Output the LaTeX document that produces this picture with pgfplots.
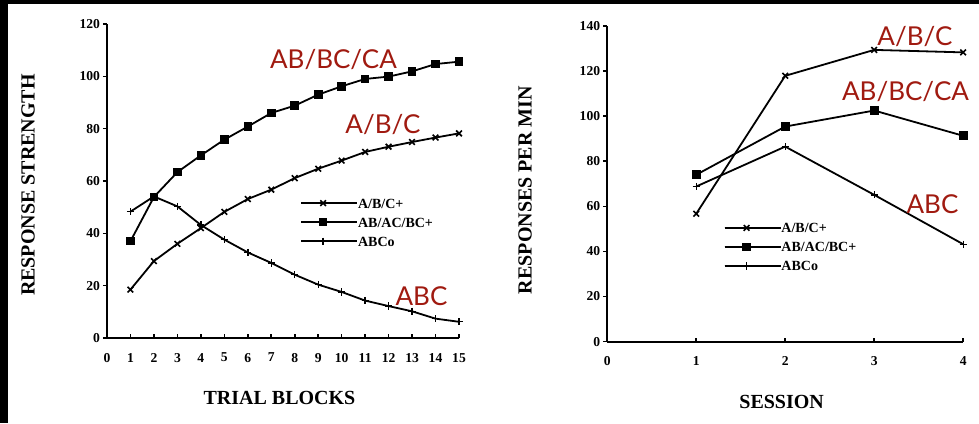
\documentclass[border=0pt]{standalone}
\usepackage{fontspec}
\setmainfont{Liberation Serif}
\newfontfamily\annotfont{Lato}
\usepackage{pgfplots}
\pgfplotsset{compat=1.18}
\definecolor{annotred}{RGB}{160,26,16}

% Response strength over trial blocks
\pgfplotstableread{
x  abc  abbcca  abco
1  18.5 37.0  48.3
2  29.4 53.9  54.1
3  36.0 63.4  50.3
4  42.0 69.8  43.2
5  48.2 75.8  37.6
6  53.1 80.8  32.7
7  56.7 86.0  28.7
8  61.1 88.8  24.2
9  64.7 93.0  20.4
10 67.8 96.2  17.6
11 71.1 99.0  14.3
12 73.1 99.9  12.2
13 74.9 101.9 10.2
14 76.6 104.7 7.4
15 78.2 105.6 6.2
}\trialtable

% Response rate over sessions
\pgfplotstableread{
x abc   abbcca abco
1 56.7  74.0   68.8
2 117.9 95.4   86.5
3 129.4 102.5  65.1
4 128.3 91.3   43.2
}\sessiontable

\pgfplotsset{
  panel/.style={
    scale only axis,
    axis x line*=bottom,
    axis y line*=left,
    axis line style={line width=0.9pt},
    tick align=inside,
    major tick length=2pt,
    tick style={line width=0.8pt, black},
    ytick style={xshift=-2pt},
    clip=false,
    ymin=0,
    /pgf/number format/assume math mode=true,
    ticklabel style={font=\fontsize{6.8}{6.8}\selectfont\bfseries},
    xticklabel style={yshift=-4pt},
    label style={font=\fontsize{10}{10}\selectfont\bfseries},
    every axis plot/.append style={line width=0.9pt, black},
    legend cell align=left,
    legend image code/.code={
      \draw[mark repeat=2, mark phase=2, #1]
        plot coordinates {(0pt,0pt) (11pt,0pt) (22pt,0pt)};
      \path (0pt,0pt) -- (28pt,0pt);
    },
    legend style={draw=none, fill=none, inner sep=0pt, row sep=4.5pt,
      font=\fontsize{7}{7}\selectfont\bfseries,
      nodes={inner sep=0pt, text height=5pt, text depth=0pt}},
  },
  markx/.style={mark=x, mark size=2pt, mark options={line width=0.8pt}},
  marksq/.style={mark=square*, mark size=1.7pt},
  markplus/.style={mark=+, mark size=1.8pt, mark options={line width=0.7pt}},
}

\begin{document}
\begin{tikzpicture}
  % page background with the dark strips along the top and left edges
  \fill[white] (0pt,0pt) rectangle (489.5pt,-211.5pt);
  \fill[black] (0pt,0pt) rectangle (489.5pt,-2pt);
  \fill[black] (0pt,0pt) rectangle (4pt,-211.5pt);

  \begin{axis}[panel,
    at={(53.5pt,-169pt)}, anchor=south west,
    width=176pt, height=157pt,
    xmin=0, xmax=15, ymax=120,
    xtick={0,1,...,15}, ytick={0,20,...,120},
    xlabel={TRIAL BLOCKS},
    ylabel={RESPONSE STRENGTH},
    xlabel style={at={([yshift=-30pt]axis description cs:0.49,0)}, anchor=center},
    ylabel style={at={([xshift=-39.5pt]axis description cs:0,0.487)}, anchor=center},
    legend style={at={(axis description cs:0.548,0.369)}, anchor=west},
  ]
    \addplot[markx] table[x=x, y=abc] {\trialtable};
    \addlegendentry{A/B/C+}
    \addplot[marksq] table[x=x, y=abbcca] {\trialtable};
    \addlegendentry{AB/AC/BC+}
    \addplot[markplus] table[x=x, y=abco] {\trialtable};
    \addlegendentry{ABCo}
  \end{axis}

  \begin{axis}[panel,
    at={(303.6pt,-170.8pt)}, anchor=south west,
    width=178pt, height=157.8pt,
    xmin=0, xmax=4, ymax=140,
    xtick={0,1,...,4}, ytick={0,20,...,140},
    xlabel={SESSION},
    ylabel={RESPONSES PER MIN},
    xlabel style={at={([yshift=-30pt]axis description cs:0.49,0)}, anchor=center},
    ylabel style={at={([xshift=-41pt]axis description cs:0,0.48)}, anchor=center},
    legend style={at={(axis description cs:0.326,0.30)}, anchor=west},
  ]
    \addplot[markx] table[x=x, y=abc] {\sessiontable};
    \addlegendentry{A/B/C+}
    \addplot[marksq] table[x=x, y=abbcca] {\sessiontable};
    \addlegendentry{AB/AC/BC+}
    \addplot[markplus] table[x=x, y=abco] {\sessiontable};
    \addlegendentry{ABCo}
  \end{axis}

  % condition names
  \begin{scope}[every node/.style={anchor=base, inner sep=0pt, text=annotred,
      font=\annotfont\fontsize{13}{13}\selectfont}]
    \node at (166.75pt,-34pt) {AB/BC/CA};
    \node at (191.5pt,-66.5pt) {A/B/C};
    \node at (210.75pt,-152.5pt) {ABC};
    \node at (457.5pt,-22.5pt) {A/B/C};
    \node at (452.75pt,-50pt) {AB/BC/CA};
    \node at (466.25pt,-106.5pt) {ABC};
  \end{scope}
\end{tikzpicture}
\end{document}
